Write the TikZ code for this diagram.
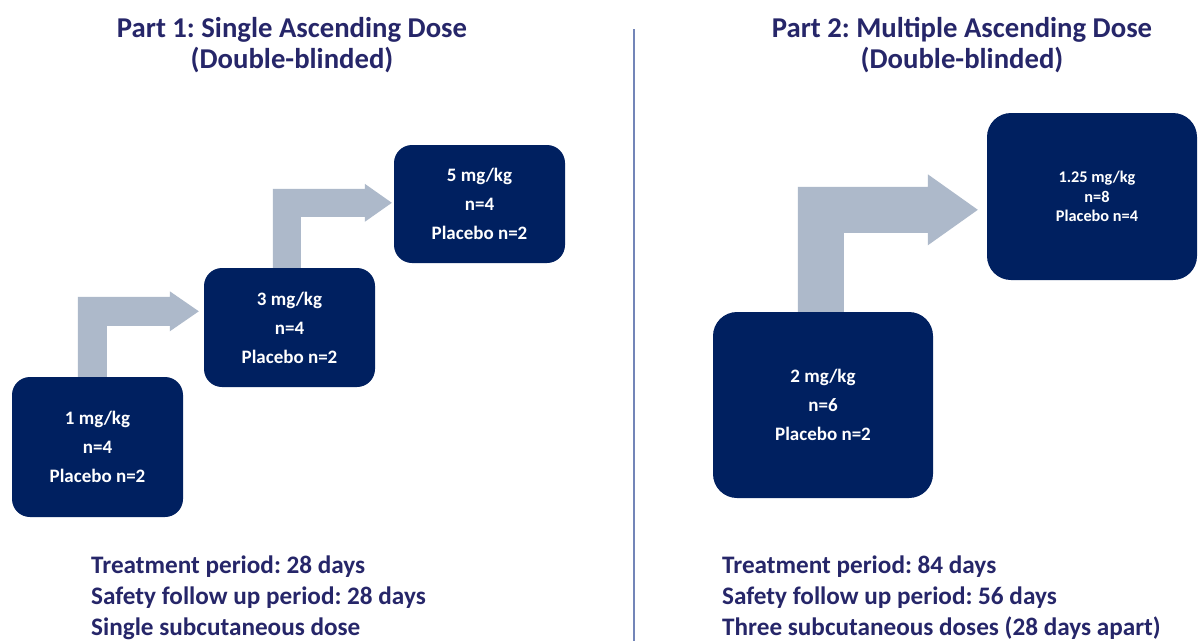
\documentclass[tikz,border=0pt]{standalone}
\usepackage{fontspec}
\setmainfont{Carlito}
\usetikzlibrary{calc,backgrounds}
\definecolor{boxblue}{HTML}{002060}
\definecolor{arrowgray}{HTML}{ADB9CA}
\definecolor{titleblue}{HTML}{262669}
\definecolor{linegray}{HTML}{7385B8}
\frenchspacing
\begin{document}
\begin{tikzpicture}[x=1pt,y=-1pt,
  dosebox/.style={fill=boxblue, text=white, rounded corners=18pt, inner sep=0pt,
    align=center, font=\bfseries\fontsize{19}{29}\selectfont},
  madbox/.style={dosebox, rounded corners=24pt},
  smalltext/.style={font=\bfseries\fontsize{16.3}{19.5}\selectfont},
  titletext/.style={text=titleblue, align=center, inner sep=0pt, anchor=base,
    font=\bfseries\fontsize{28.7}{31}\selectfont},
  infotext/.style={text=titleblue, align=left, inner sep=0pt, anchor=base west,
    font=\bfseries\fontsize{25.2}{31}\selectfont},
  blockarrow/.style={fill=arrowgray},
  divider/.style={draw=linegray, line width=1.5pt}]
\useasboundingbox (0,0) rectangle (1198,641);

% titles (base anchor = baseline of the last line)
\node[titletext] (t1) at (292,68) {Part 1: Single Ascending Dose\\(Double-blinded)};
\node[titletext] (t2) at (962,68) {Part 2: Multiple Ascending Dose\\(Double-blinded)};

% divider
\coordinate (dtop) at (634,29);
\coordinate (dbot) at (634,641);
\draw[divider] (dtop) -- (dbot);

% part 1 boxes
\node[dosebox, minimum width=171pt, minimum height=140pt] (b1) at (97.5,447)
  {1 mg/kg\\n=4\\Placebo n=2};
\node[dosebox, minimum width=171pt, minimum height=119pt] (b2) at (289.5,327.5)
  {3 mg/kg\\n=4\\Placebo n=2};
\node[dosebox, minimum width=171pt, minimum height=118pt] (b3) at (479.5,204)
  {5 mg/kg\\n=4\\Placebo n=2};

% part 2 boxes
\node[madbox, minimum width=220pt, minimum height=186pt] (m1) at (823,405)
  {2 mg/kg\\n=6\\Placebo n=2};
\node[madbox, smalltext, minimum width=210pt, minimum height=167pt] (m2) at (1092,196.5)
  {\hspace*{10pt}1.25 mg/kg\\\hspace*{10pt}n=8\\\hspace*{10pt}Placebo n=4};

% block arrows (behind the boxes)
\begin{pgfonlayer}{background}
\fill[white] (0,0) rectangle (1198,641);
\fill[blockarrow] ($(b1.north west)+(66,3)$) -- ++(0,-83) -- ++(92,0) -- ++(0,-5.5)
  -- ++(29,20) -- ++(-29,20) -- ++(0,-5.5) -- ++(-63,0) -- ++(0,54) -- cycle;
\fill[blockarrow] ($(b2.north west)+(69,3)$) -- ++(0,-82) -- ++(92,0) -- ++(0,-5)
  -- ++(27,19) -- ++(-27,19) -- ++(0,-5) -- ++(-64,0) -- ++(0,54) -- cycle;
\fill[blockarrow] ($(m1.north west)+(85,3)$) -- ++(0,-128) -- ++(130,0) -- ++(0,-12.5)
  -- ++(50,35.5) -- ++(-50,35.5) -- ++(0,-12.5) -- ++(-84,0) -- ++(0,82) -- cycle;
\end{pgfonlayer}

% bottom information (base anchor = baseline of the last line)
\node[infotext] (i1) at (91,635)
  {Treatment period: 28 days\\Safety follow up period: 28 days\\Single subcutaneous dose};
\node[infotext] (i2) at (722,635)
  {Treatment period: 84 days\\Safety follow up period: 56 days\\Three subcutaneous doses (28 days apart)};
\end{tikzpicture}
\end{document}
